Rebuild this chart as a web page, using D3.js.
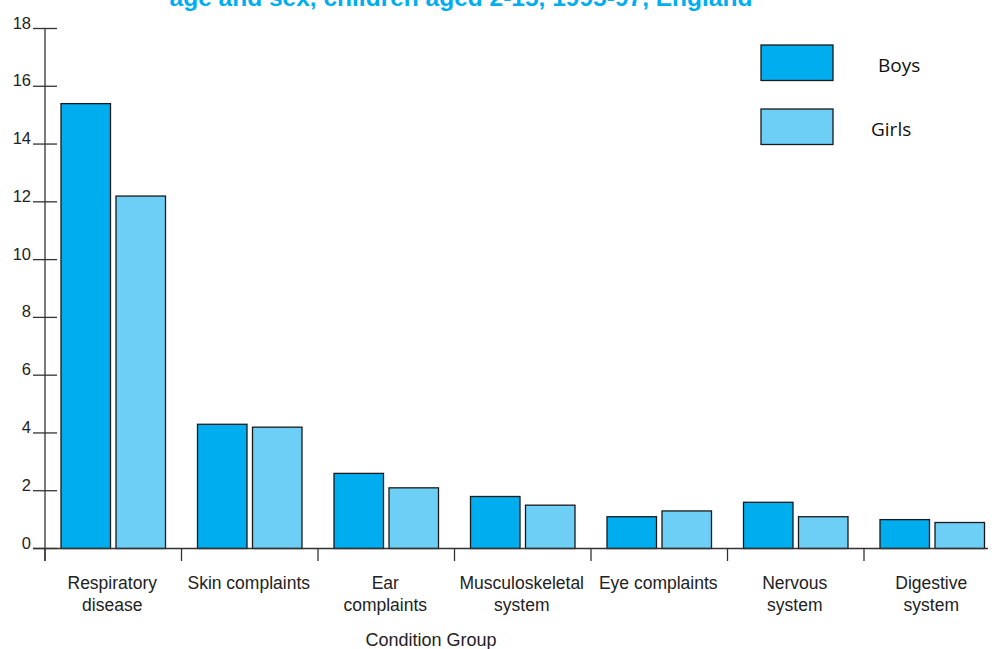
<!DOCTYPE html>
<html><head><meta charset="utf-8">
<script src="https://cdn.jsdelivr.net/npm/d3@7"></script>
<style>body{margin:0;background:#fff}svg{display:block}</style>
</head><body>
<svg id="c" width="992" height="649"></svg>
<script>
const title = "age and sex, children aged 2-15, 1995-97, England";
const categories = [["Respiratory","disease"],["Skin complaints"],["Ear","complaints"],["Musculoskeletal","system"],["Eye complaints"],["Nervous","system"],["Digestive","system"]];
const seriesNames = ["Boys","Girls"];
const boys  = [15.4, 4.3, 2.6, 1.8, 1.1, 1.6, 1.0];
const girls = [12.2, 4.2, 2.1, 1.5, 1.3, 1.1, 0.9];
const yTicks = [0,2,4,6,8,10,12,14,16,18];
const xTitle = "Condition Group";
const colors = ["#00AEEF","#6DCFF6"];

const svg = d3.select("#c");
const keys = categories.map(c => c.join(" "));
const x = d3.scaleBand().domain(keys).range([45, 45 + 7*136.5]);
const x1 = d3.scaleBand().domain(seriesNames).range([16, 120.5]).paddingInner(0.1);
const y = d3.scaleLinear().domain([0,18]).range([548.5, 28.5]);
const font = "'Liberation Sans', Arial, sans-serif";

// title (cut off at the top edge, as in the reference)
svg.append("text").attr("x", 461).attr("y", 6).attr("text-anchor","middle")
  .attr("font-family", font).attr("font-weight","bold").attr("font-size", 24.5)
  .attr("fill", "#00AEEF").text(title);

// bars
const data = keys.map((k,i)=>({k, vals:[boys[i], girls[i]]}));
const g = svg.append("g");
data.forEach(d => {
  d.vals.forEach((v,j) => {
    g.append("rect")
      .attr("x", x(d.k) + x1(seriesNames[j]))
      .attr("y", y(v))
      .attr("width", x1.bandwidth())
      .attr("height", y(0) - y(v))
      .attr("fill", colors[j])
      .attr("stroke", "#1a1a1a").attr("stroke-width", 1.3);
  });
});

// y axis
const ax = svg.append("g").attr("stroke", "#333").attr("stroke-width", 1.3);
ax.append("line").attr("x1",45).attr("x2",45).attr("y1",y(18)).attr("y2",561);
yTicks.forEach(t => {
  ax.append("line").attr("x1",33).attr("x2",57).attr("y1",y(t)).attr("y2",y(t));
});
svg.append("g").selectAll("text").data(yTicks).join("text")
  .attr("x", 31).attr("y", d => y(d)).attr("text-anchor","end")
  .attr("font-family", font).attr("font-size", 16.5).attr("fill","#222")
  .text(d => d);

// x axis
ax.append("line").attr("x1",33).attr("x2",988).attr("y1",y(0)).attr("y2",y(0));
keys.forEach(k => {
  ax.append("line").attr("x1",x(k)).attr("x2",x(k)).attr("y1",y(0)).attr("y2",561);
});
const lab = svg.append("g");
categories.forEach((c,i) => {
  const t = lab.append("text").attr("text-anchor","middle")
    .attr("font-family", font).attr("font-size", 17.5).attr("fill","#222");
  c.forEach((line,li) => {
    t.append("tspan").attr("x", x(keys[i]) + x.bandwidth()/2 - 1)
      .attr("y", 589 + li*22).text(line);
  });
});
svg.append("text").attr("x", 431).attr("y", 646).attr("text-anchor","middle")
  .attr("font-family", font).attr("font-size", 18).attr("fill","#222").text(xTitle);

// legend
seriesNames.forEach((s,j) => {
  svg.append("rect").attr("x", 761).attr("y", 45 + j*64).attr("width", 72).attr("height", 35.5)
    .attr("fill", colors[j]).attr("stroke","#1a1a1a").attr("stroke-width",1.3);
  svg.append("text").attr("x", j===0 ? 878 : 871).attr("y", 72 + j*64)
    .attr("font-family", "'Open Sans', sans-serif").attr("font-size", 19).attr("fill","#111").text(s);
});
</script>
</body></html>
